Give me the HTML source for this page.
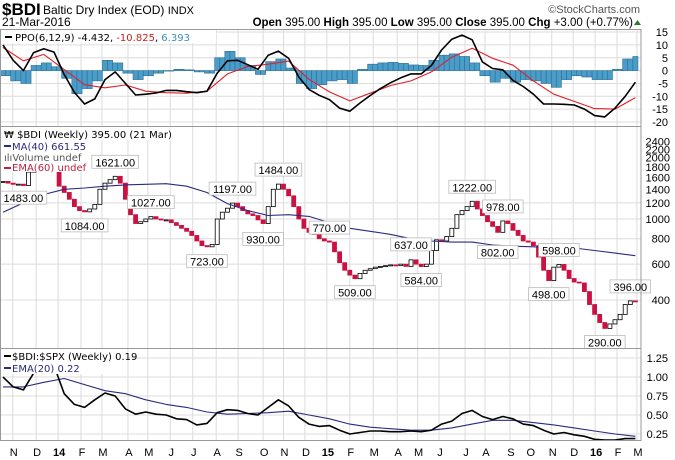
<!DOCTYPE html>
<html><head><meta charset="utf-8">
<style>
html,body{margin:0;padding:0;background:#fff;width:675px;height:460px;overflow:hidden;font-family:"Liberation Sans",sans-serif}
svg{display:block}
</style></head>
<body>
<svg id="c" width="675" height="460" xmlns="http://www.w3.org/2000/svg" font-family="Liberation Sans, sans-serif">
<text x="2" y="15" font-size="17" font-weight="bold">$BDI</text>
<text x="43" y="14" font-size="12">Baltic Dry Index (EOD) <tspan font-size="11">INDX</tspan></text>
<text x="2" y="26" font-size="12">21-Mar-2016</text>
<text x="640" y="13" font-size="11" fill="#555" text-anchor="end">©StockCharts.com</text>
<text x="633" y="26" font-size="11.5" text-anchor="end"><tspan font-weight="bold">Open</tspan> 395.00 <tspan font-weight="bold">High</tspan> 395.00 <tspan font-weight="bold">Low</tspan> 395.00 <tspan font-weight="bold">Close</tspan> 395.00 <tspan font-weight="bold">Chg</tspan> +3.00 (+0.77%)</text>
<polygon points="634,25 641,25 637.5,20" fill="#2a7a2a"/>
<g id="grid"></g>
<g id="ppo"></g>
<g id="price"></g>
<g id="ratio"></g>
<g id="axes"></g>
</svg>
<script>
// ---------- data ----------
const monthLabels = ["N","D","14","F","M","A","M","J","J","A","S","O","N","D","15","F","M","A","M","J","J","A","S","O","N","D","16","F","M"];
const monthWeeks = [1.9,6.5,10.8,15.3,19.4,24.5,28.4,32.8,37.2,41.8,46.1,51,55,59.2,63.5,68,72.6,77.3,81.3,85.5,90.6,94.5,99.4,103.3,107.6,111.8,116.1,120.4,124.3];
const closes = [1530,1500,1480,1483,1460,1700,2000,2200,2300,2250,2100,1450,1350,1250,1150,1100,1084,1120,1180,1400,1500,1560,1621,1500,1250,1050,950,970,1000,1027,1000,990,990,960,930,900,870,830,780,740,730,750,1000,1080,1130,1197,1150,1100,1060,1040,990,950,1150,1400,1484,1400,1300,1150,1000,900,860,840,800,780,770,690,610,560,530,509,540,560,570,580,585,590,595,590,600,585,630,600,584,600,700,790,780,820,900,1050,1100,1150,1222,1120,1040,970,920,860,978,950,880,830,780,770,740,650,560,498,580,598,560,510,490,485,440,380,340,310,290,305,320,340,380,396,395];
const ma40 = [1080,1200,1320,1400,1420,1450,1470,1480,1490,1450,1350,1190,1100,1040,1050,1030,960,900,870,840,800,780,770,770,745,735,730,725,720,700,680,660];
const ppoLine = [10,4,0,7,8.5,7.2,-1.5,-8.5,-13,-11,-3.5,-0.5,-5,-9.5,-9.2,-8.7,-7.7,-7.7,-8.2,-8.6,-8,-1,3.8,4,2.3,0.5,6,7.6,4.8,-2.5,-7.3,-9.6,-11.3,-14.6,-15.8,-12.6,-9.7,-7,-4.7,-2.8,-1.3,-1.3,2,8,12.2,13.8,12,3.4,0.8,0.3,-3.8,-6.2,-9.2,-13,-13,-13.1,-13.4,-15,-17.5,-18,-14.6,-10,-4.5];
const ppoSignal = [9,3.8,6.3,0.4,-5.5,-6.7,-5.6,-8,-8.6,-8.8,-8,-1.3,1.6,2.5,3.7,-3.4,-8.3,-11.8,-8.8,-5.8,-4,-0.5,5.2,8.7,4.8,2.1,-4,-9.2,-12,-14.8,-15,-10.5];
const ppoHist = [-2,-4,-5,2,3,1.5,-3,-9,-7,-4,4,3,-1,-3.5,-2,-1,0,0.5,0.3,-0.5,-1,5,7.5,5,2,-1.5,3.5,4.5,1,-5,-7,-5.5,-4,-3.5,-5,0.5,2.5,3,3.2,2.8,2.2,2,4,6,6.5,5.5,3,-2,-4.5,-3,-4.5,-3.5,-4,-5,-6.5,-3.5,-2,-2.5,-3.5,-3.5,0.5,4.5,5.5];
const ratioLine = [1.0,0.87,0.83,1.05,1.1,1.15,0.78,0.64,0.6,0.7,0.79,0.75,0.58,0.51,0.54,0.51,0.5,0.45,0.44,0.37,0.39,0.53,0.57,0.56,0.52,0.5,0.6,0.7,0.62,0.47,0.38,0.35,0.36,0.3,0.25,0.27,0.29,0.29,0.28,0.28,0.29,0.28,0.3,0.38,0.42,0.52,0.56,0.48,0.44,0.48,0.45,0.38,0.36,0.3,0.25,0.27,0.24,0.22,0.18,0.17,0.17,0.19,0.19];
const ratioEma = [0.87,0.87,0.93,0.98,0.9,0.82,0.78,0.7,0.64,0.6,0.54,0.51,0.52,0.53,0.55,0.5,0.45,0.38,0.34,0.32,0.3,0.3,0.33,0.38,0.43,0.43,0.4,0.37,0.33,0.29,0.25,0.22];
const ppoTicks = [15,10,5,0,-5,-10,-15,-20];
const priceTicks = [400,600,800,1000,1200,1400,1600,1800,2000,2200,2400];
const ratioTicks = [1.25,1.00,0.75,0.50,0.25];
const annotations = [[4,1483,"b"],[16,1084,"b"],[22,1621,"a"],[29,1027,"a"],[40,723,"b"],[45,1197,"a"],[51,930,"b"],[54,1484,"a"],[64,770,"a"],[69,509,"b"],[80,637,"a"],[82,584,"b"],[92,1222,"a"],[98,978,"a"],[97,802,"b"],[109,598,"a"],[107,498,"b"],[118,290,"b"],[123,396,"a"]];

// ---------- geometry ----------
const NS="http://www.w3.org/2000/svg";
const PL=0, PR=641;
const P1={t:29,b:126}, P2={t:126,b:348}, P3={t:348,b:440};
const xw = w => 3 + w*5.1;
const yPpo = v => 70.6 - v*2.57;
const yPrice = v => 300 - 88.4*Math.log(v/400);
const yRatio = v => 453 - v*76;
function mk(tag, attrs, parent){const e=document.createElementNS(NS,tag);for(const k in attrs)e.setAttribute(k,attrs[k]);parent.appendChild(e);return e;}
const G=id=>document.getElementById(id);
const grid=G('grid'), ppo=G('ppo'), price=G('price'), ratio=G('ratio'), axes=G('axes');

monthWeeks.forEach((w,i)=>{
  const l=mk('line',{x1:xw(w),x2:xw(w),y1:P1.t,y2:P3.b,stroke:'#dcdcdc','stroke-width':1},grid);
  
  
  const t=mk('text',{x:xw(w)+1,y:456,'font-size':11,'text-anchor':'middle','font-weight':monthLabels[i].length>1?'bold':'normal'},axes);
  t.textContent=monthLabels[i];
  
  
});
ppoTicks.forEach(v=>{
  const l=mk('line',{x1:PL,x2:PR,y1:yPpo(v),y2:yPpo(v),stroke:'#dcdcdc'},grid);
  
  
  const t=mk('text',{x:668,y:yPpo(v)+4,'font-size':11,'text-anchor':'end'},axes);
  t.textContent=v;
  
  
});
priceTicks.forEach(v=>{
  const y=yPrice(v);
  if(v<=1000||v===1200){
    const l=mk('line',{x1:PL,x2:PR,y1:y,y2:y,stroke:'#dcdcdc'},grid);
    
    
  }
  const t=mk('text',{x:670,y:y+4,'font-size':11,'text-anchor':'end'},axes);
  t.textContent=v;
  
  
});
ratioTicks.forEach(v=>{
  const l=mk('line',{x1:PL,x2:PR,y1:yRatio(v),y2:yRatio(v),stroke:'#dcdcdc'},grid);
  
  
  const t=mk('text',{x:668,y:yRatio(v)+4,'font-size':11,'text-anchor':'end'},axes);
  t.textContent=v.toFixed(2);
  
  
});

ppoHist.forEach((v,k)=>{
  for(let j=0;j<2;j++){
    const w=k*2+j; if(w>124) continue;
    const x=xw(w)-2.55, y0=yPpo(0), y1=yPpo(v);
    const r=mk('rect',{x:x,y:Math.min(y0,y1),width:5.1,height:Math.max(0.5,Math.abs(y1-y0)),fill:'#4a9cc9',stroke:'#2b6f94','stroke-width':0.6},ppo);
    
    
  }
});
function line(arr, stepW, yf, color, width, parent, name){
  const pts=arr.map((v,i)=>xw(i*stepW).toFixed(1)+','+yf(v).toFixed(1)).join(' ');
  const p=mk('polyline',{points:pts,fill:'none',stroke:color,'stroke-width':width,'stroke-linejoin':'round'},parent);
  
  
}
line(ppoSignal,4,yPpo,'#e0202a',1.1,ppo,'ppo-signal-line');
line(ppoLine,2,yPpo,'#000',1.6,ppo,'ppo-line');

closes.forEach((c,i)=>{
  const o=i>0?closes[i-1]:c;
  const up=c>=o, x=xw(i);
  const yt=yPrice(Math.max(o,c)), yb=yPrice(Math.min(o,c));
  const r=mk('rect',{x:x-2,y:yt,width:4,height:Math.max(1,yb-yt),fill:up?'#fff':'#cc1040',stroke:up?'#000':'#cc1040','stroke-width':0.8},price);
  
  
});
line(ma40,4,yPrice,'#2a2a80',1.1,price,'ma40-line');
annotations.forEach(a=>{
  const [i,v,pos]=a, x=xw(i), y=yPrice(v)+(pos==='a'?-14:14);
  const txt=v.toFixed(2), w=txt.length*6.1+4;
  const g=mk('g',{},price);
  
  
  mk('rect',{x:x-w/2,y:y-7,width:w,height:13,fill:'#fff',stroke:'#bbb','stroke-width':0.8},g);
  const t=mk('text',{x:x,y:y+4,'font-size':11,'text-anchor':'middle'},g);
  t.textContent=txt;
});

line(ratioEma,4,yRatio,'#2a2a80',1.1,ratio,'ratio-ema-line');
line(ratioLine,2,yRatio,'#000',1.6,ratio,'ratio-line');

[[P1.t,P1.b],[P2.t,P2.b],[P3.t,P3.b]].forEach(p=>{
  const r=mk('rect',{x:0.5,y:p[0]+0.5,width:PR-0.5,height:p[1]-p[0],fill:'none',stroke:'#999'},axes);
  
  
});
</script>
<svg style="position:absolute;left:0;top:0" width="675" height="460" xmlns="http://www.w3.org/2000/svg" font-family="DejaVu Sans, sans-serif" font-size="10">
<g>
<rect x="1" y="30" width="215" height="13" fill="#fff"/>
<line x1="5" y1="37" x2="12" y2="37" stroke="#000" stroke-width="2"/>
<text x="15" y="41">PPO(6,12,9) -4.432, <tspan fill="#cc2020">-10.825</tspan>, <tspan fill="#3d8fc0">6.393</tspan></text>
</g>
<g>
<rect x="1" y="127" width="190" height="13" fill="#fff"/>
<rect x="1" y="140" width="84" height="32" fill="#fff"/>
<text x="4" y="138">₩ $BDI (Weekly) 395.00 (21 Mar)</text>
<line x1="4" y1="146" x2="11" y2="146" stroke="#2a2a80" stroke-width="2"/>
<text x="12" y="150" fill="#2a2a80">MA(40) 661.55</text>
<text x="4" y="161" fill="#555">ılıVolume undef</text>
<line x1="4" y1="168" x2="11" y2="168" stroke="#c02040" stroke-width="2"/>
<text x="12" y="171" fill="#c02040">EMA(60) undef</text>
</g>
<g>
<rect x="1" y="349" width="125" height="25" fill="#fff"/>
<line x1="4" y1="356" x2="11" y2="356" stroke="#000" stroke-width="2"/>
<text x="12" y="360">$BDI:$SPX (Weekly) 0.19</text>
<line x1="4" y1="368" x2="11" y2="368" stroke="#2a2a80" stroke-width="2"/>
<text x="12" y="372" fill="#2a2a80">EMA(20) 0.22</text>
</g>
</svg>
</body></html>
